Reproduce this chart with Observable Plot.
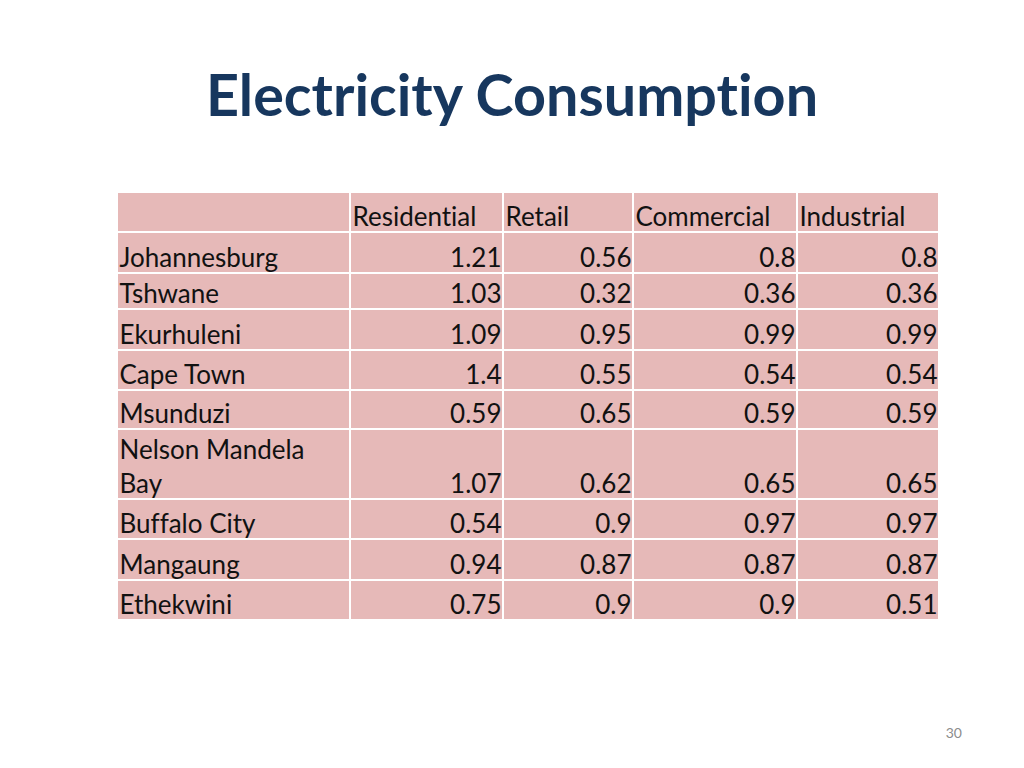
<!DOCTYPE html>
<html><head><meta charset="utf-8">
<script src="https://cdn.jsdelivr.net/npm/d3@7"></script>
<script src="https://cdn.jsdelivr.net/npm/@observablehq/plot@0.6"></script>
<style>
html,body{margin:0;padding:0;background:#fff;}
#page{position:relative;width:1024px;height:768px;overflow:hidden;font-family:Lato,sans-serif;font-variant-ligatures:none;font-feature-settings:"liga" 0,"clig" 0;}
#title{position:absolute;left:0;width:1024px;top:65px;text-align:center;font-weight:700;font-size:57.5px;line-height:57px;color:#17375e;white-space:nowrap;}
#chart{position:absolute;left:0;top:180px;}
#chart svg text{font-variant-ligatures:none;font-feature-settings:"liga" 0,"clig" 0;}
#pagenum{position:absolute;right:62px;top:726px;font-size:14px;line-height:14px;color:#8c8c8c;}
</style></head>
<body><div id="page"><div id="title">Electricity Consumption</div><div id="chart"></div><div id="pagenum">30</div></div>
<script>
// ---- data ----
const cities = ["Johannesburg","Tshwane","Ekurhuleni","Cape Town","Msunduzi","Nelson Mandela\nBay","Buffalo City","Mangaung","Ethekwini"];
const sectors = ["Residential","Retail","Commercial","Industrial"];
const residential = [1.21,1.03,1.09,1.4,0.59,1.07,0.54,0.94,0.75];
const retail      = [0.56,0.32,0.95,0.55,0.65,0.62,0.9,0.87,0.9];
const commercial  = [0.8,0.36,0.99,0.54,0.59,0.65,0.97,0.87,0.9];
const industrial  = [0.8,0.36,0.99,0.54,0.59,0.65,0.97,0.87,0.51];
const series = [residential, retail, commercial, industrial];

// ---- layout (relative units) ----
const colWidths = [233,153,130,164,142];
const rowHeights = [40,41,36,41,40,39,70,40,41,40]; // header + one per city
const colStart = colWidths.map((w,i)=>d3.sum(colWidths.slice(0,i)));
const rowStart = rowHeights.map((u,i)=>d3.sum(rowHeights.slice(0,i)));
const totalX = d3.sum(colWidths), totalY = d3.sum(rowHeights);

const cells = [];
for (let r = 0; r < rowHeights.length; r++) {
  for (let c = 0; c < colWidths.length; c++) {
    let text = "", kind = "left";
    if (r === 0) { text = c === 0 ? "" : sectors[c-1]; }
    else if (c === 0) { text = cities[r-1]; }
    else { text = String(series[c-1][r-1]); kind = "num"; }
    cells.push({x1: colStart[c], x2: colStart[c]+colWidths[c], y1: rowStart[r], y2: rowStart[r]+rowHeights[r], text, kind});
  }
}

const chart = Plot.plot({
  width: 1024,
  height: 588,
  style: {background: "transparent", fontFamily: "Lato, sans-serif"},
  x: {domain: [0, totalX], range: [117, 939], axis: null},
  y: {domain: [0, totalY], range: [12, 12 + totalY], axis: null},
  marks: [
    Plot.rect(cells, {x1: "x1", x2: "x2", y1: "y1", y2: "y2", fill: "#e6b9b8", stroke: "#ffffff", strokeWidth: 2}),
    Plot.text(cells.filter(d => d.kind === "left" && d.text), {x: "x1", y: "y2", text: "text", textAnchor: "start", lineAnchor: "bottom", lineHeight: 1.3, dx: 2, dy: -7, fontSize: 26, fill: "#111"}),
    Plot.text(cells.filter(d => d.kind === "num"), {x: "x2", y: "y2", text: "text", textAnchor: "end", lineAnchor: "bottom", dx: -2, dy: -7, fontSize: 26, fill: "#111"})
  ]
});
document.getElementById("chart").appendChild(chart);
</script>
</body></html>
